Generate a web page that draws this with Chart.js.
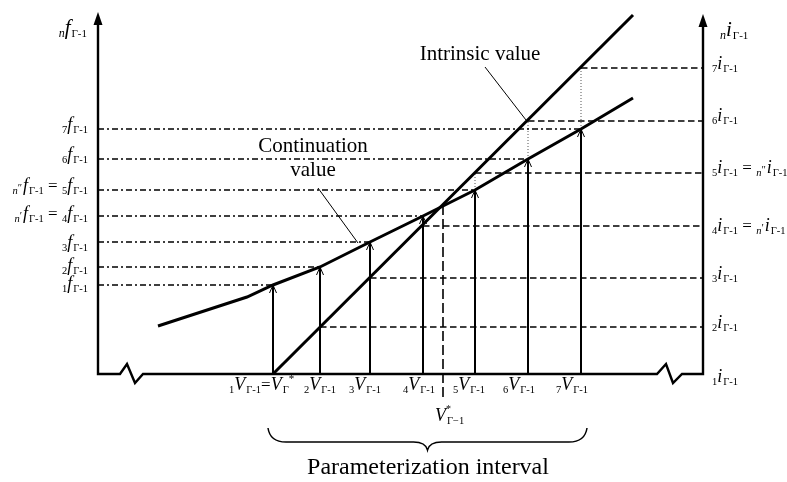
<!DOCTYPE html>
<html>
<head>
<meta charset="utf-8">
<script src="https://cdn.jsdelivr.net/npm/chart.js@4/dist/chart.umd.min.js"></script>
<style>
  html, body { margin: 0; padding: 0; background: #fff; }
  canvas { display: block; }
</style>
</head>
<body>
<canvas id="chart" width="787" height="482"></canvas>
<script>
const levels = ['1', '2', '3', '4', '5', '6', '7']
const vLevels = [175, 222, 272, 325, 377, 430, 483]
const fValues = [89, 107, 132, 158, 184, 215, 245]
const iValues = [0, 47, 96, 148, 201, 253, 306]
const vStar = 345
const vStarTop = 169
const intrinsicX = [175, 535]
const intrinsicY = [0, 359]
const continuationX = [60, 149, 175, 222, 272, 325, 377, 430, 483, 535]
const continuationY = [48, 77, 89, 107, 132, 158, 184, 215, 245, 276]
const axisX = [0, 0, 22, 29, 37, 45, 559, 568, 575, 584, 605, 605]
const axisY = [352, 0, 0, 10, -9, 0, 0, 10, -9, 0, 0, 350]
const axisTops = [[0, 362], [605, 360]]
const rightEdge = 605

const SERIF = '"Liberation Serif", "Times New Roman", serif'
const textStyles = {
  m: ['italic 18px', 0, 1],
  s: ['10.5px', 3, 0],
  n: ['italic 10.5px', 3, 0],
  q: ['10.5px', 0, 1],
  e: ['17px', 0, 0],
  u: ['11px', -8, 0],
  T: ['italic 21px', 0, 1],
  ts: ['11px', 3, 0],
  tn: ['italic 12px', 3, 0],
  c: ['21px', 0, 0],
  big: ['24px', 0, 0]
}

const pts = (xs, ys) => xs.map((x, k) => ({ x, y: ys[k] }))
const segs = list => list.flatMap(([x1, y1, x2, y2]) => [{ x: x1, y: y1 }, { x: x2, y: y2 }, { x: x2, y: null }])
const line = (data, extra) => Object.assign({
  data, showLine: true, borderColor: '#000', pointRadius: 0, borderWidth: 1.5,
  fill: false, spanGaps: false, tension: 0, borderCapStyle: 'butt', borderJoinStyle: 'miter'
}, extra)

const fLabel = k => {
  const base = [[levels[k], 's'], ['f', 'm'], ['Γ-1', 's']]
  if (k === 3) return [['n', 'n'], ['′', 'q'], ['f', 'm'], ['Γ-1', 's'], [' = ', 'e'], ...base]
  if (k === 4) return [['n', 'n'], ['″', 'q'], ['f', 'm'], ['Γ-1', 's'], [' = ', 'e'], ...base]
  return base
}
const iLabel = k => {
  const base = [[levels[k], 's'], ['i', 'm'], ['Γ-1', 's']]
  if (k === 3) return [...base, [' = ', 'e'], ['n', 'n'], ['′', 'q'], ['i', 'm'], ['Γ-1', 's']]
  if (k === 4) return [...base, [' = ', 'e'], ['n', 'n'], ['″', 'q'], ['i', 'm'], ['Γ-1', 's']]
  return base
}
const vLabel = k => k === 0
  ? [['1', 's'], ['V', 'm'], ['Γ-1', 's'], ['=', 'e'], ['V', 'm'], ['Γ', 's'], ['*', 'u']]
  : [[levels[k], 's'], ['V', 'm'], ['Γ-1', 's']]

const leftLabelDy = [4, 4, 6, 3, 1, 1, 1]
const rightLabelDy = [8, 1, 1, 5, 0, 0, 1]
const bottomLabelDx = [-44, -16, -21, -20, -22, -25, -25]

const drawRich = (ctx, x, y, parts, align) => {
  const widths = parts.map(([t, k]) => {
    ctx.font = `${textStyles[k][0]} ${SERIF}`
    return ctx.measureText(t).width + textStyles[k][2]
  })
  const total = widths.reduce((a, b) => a + b, 0)
  let cx = align === 'right' ? x - total : align === 'center' ? x - total / 2 : x
  parts.forEach(([t, k], j) => {
    ctx.font = `${textStyles[k][0]} ${SERIF}`
    ctx.fillText(t, cx, y + textStyles[k][1])
    cx += widths[j]
  })
}

const annotations = {
  id: 'annotations',
  afterDatasetsDraw (chart) {
    const { ctx, scales: { x, y } } = chart
    const px = v => x.getPixelForValue(v)
    const py = v => y.getPixelForValue(v)
    ctx.save()
    ctx.fillStyle = '#000'
    ctx.strokeStyle = '#000'
    axisTops.forEach(([ax, top]) => {
      ctx.beginPath()
      ctx.moveTo(px(ax), py(top))
      ctx.lineTo(px(ax) - 4.5, py(top) + 13)
      ctx.lineTo(px(ax) + 4.5, py(top) + 13)
      ctx.closePath()
      ctx.fill()
    })
    ctx.lineWidth = 1
    vLevels.forEach((v, k) => {
      const tx = px(v), ty = py(fValues[k])
      ctx.beginPath()
      ctx.moveTo(tx - 3.5, ty + 8)
      ctx.lineTo(tx, ty)
      ctx.lineTo(tx + 3.5, ty + 8)
      ctx.stroke()
    })

    // brace under the interval
    const L = px(170), R = px(489), C = (L + R) / 2
    const top = py(-54), mid = py(-68), tip = py(-76)
    ctx.lineWidth = 1.5
    ctx.beginPath()
    ctx.moveTo(L, top)
    ctx.quadraticCurveTo(L + 2, mid, L + 18, mid)
    ctx.lineTo(C - 14, mid)
    ctx.quadraticCurveTo(C - 2, mid, C, tip)
    ctx.quadraticCurveTo(C + 2, mid, C + 14, mid)
    ctx.lineTo(R - 18, mid)
    ctx.quadraticCurveTo(R - 2, mid, R, top)
    ctx.stroke()

    ctx.textBaseline = 'alphabetic'
    fValues.forEach((f, k) => drawRich(ctx, px(-10), py(f) + leftLabelDy[k], fLabel(k), 'right'))
    iValues.forEach((iv, k) => drawRich(ctx, px(614), py(iv) + rightLabelDy[k], iLabel(k), 'left'))
    vLevels.forEach((v, k) => drawRich(ctx, px(v) + bottomLabelDx[k], py(-16), vLabel(k), 'left'))
    drawRich(ctx, px(vStar) - 8, py(-47), [['V', 'm'], ['Γ−1', 's']], 'left')
    ctx.font = `10px ${SERIF}`
    ctx.fillText('*', px(vStar) + 3, py(-38))
    drawRich(ctx, px(-11), py(340), [['n', 'tn'], ['f', 'T'], ['Γ-1', 'ts']], 'right')
    drawRich(ctx, px(622), py(338), [['n', 'tn'], ['i', 'T'], ['Γ-1', 'ts']], 'left')
    drawRich(ctx, px(382), py(314), [['Intrinsic value', 'c']], 'center')
    drawRich(ctx, px(215), py(222), [['Continuation', 'c']], 'center')
    drawRich(ctx, px(215), py(198), [['value', 'c']], 'center')
    drawRich(ctx, px(330), py(-100), [['Parameterization interval', 'big']], 'center')
    ctx.restore()
  }
}

new Chart(document.getElementById('chart'), {
  type: 'scatter',
  data: {
    datasets: [
      line(pts(intrinsicX, intrinsicY), { borderWidth: 3 }),
      line(pts(continuationX, continuationY), { borderWidth: 3 }),
      line(pts(axisX, axisY), { borderWidth: 2.4 }),
      line(segs(vLevels.map((v, k) => [v, 0, v, fValues[k]])), { borderWidth: 2 }),
      line(segs(fValues.map((f, k) => [0, f, vLevels[k], f])), { borderWidth: 1.3, borderDash: [6, 3, 2, 3] }),
      line(segs(iValues.slice(1).map((iv, k) => [vLevels[k + 1], iv, rightEdge, iv])), { borderWidth: 1.6, borderDash: [6.5, 3.5] }),
      line(segs(vLevels.map((v, k) => [v, fValues[k], v, iValues[k]]).filter(s => s[3] > s[1])), { borderWidth: 1, borderColor: '#555', borderDash: [1, 2] }),
      line(segs([[vStar, vStarTop, vStar, -24]]), { borderWidth: 1.6, borderDash: [10, 4] }),
      line(segs([[387, 307, 428, 254], [220, 186, 260, 131]]), { borderWidth: 1 })
    ]
  },
  options: {
    responsive: false,
    animation: false,
    devicePixelRatio: 1,
    layout: { padding: 0 },
    scales: {
      x: { type: 'linear', min: -98, max: 689, display: false },
      y: { type: 'linear', min: -108, max: 374, display: false }
    },
    plugins: { legend: { display: false }, tooltip: { enabled: false } }
  },
  plugins: [annotations]
})
</script>
</body>
</html>
